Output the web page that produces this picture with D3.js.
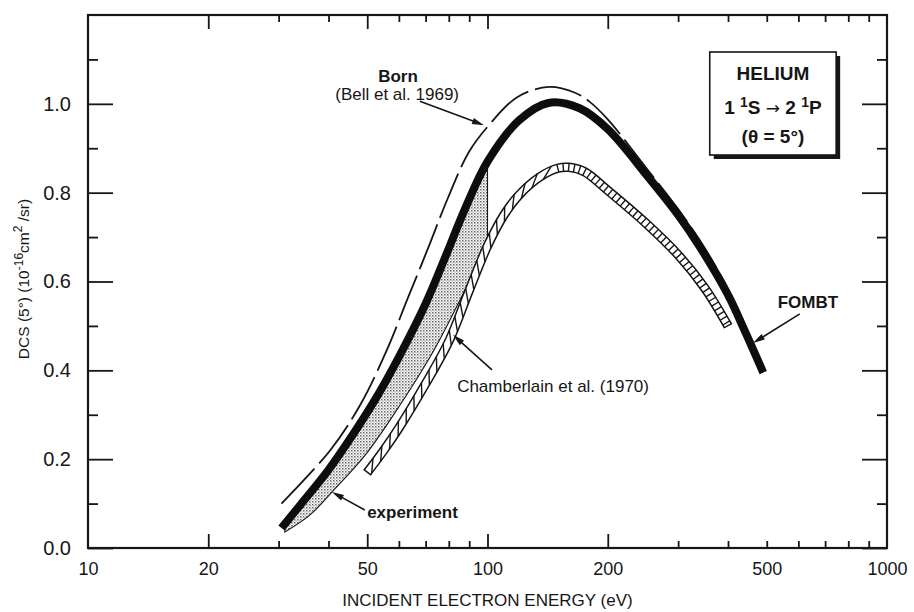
<!DOCTYPE html>
<html><head><meta charset="utf-8">
<script src="https://cdn.jsdelivr.net/npm/d3@7"></script>
<style>body{margin:0;background:#fff}svg{display:block}text{font-family:"Liberation Sans",Arial,Helvetica,sans-serif;fill:#161616}</style>
</head><body>
<svg id="c" width="914" height="612"></svg>
<script>
// ---------- data ----------
const xTickValues = [10, 20, 50, 100, 200, 500, 1000];
const xTickLabels = ["10", "20", "50", "100", "200", "500", "1000"];
const xMajorTicks = [20, 50, 100, 200];
const xMinorTicks = [30, 40, 60, 70, 80, 90, 300, 400, 500, 600, 700, 800, 900];
const yTickValues = [0, 0.2, 0.4, 0.6, 0.8, 1.0];
const yTickLabels = ["0.0", "0.2", "0.4", "0.6", "0.8", "1.0"];
const yMinorTicks = [0.1, 0.3, 0.5, 0.7, 0.9, 1.1];

// FOMBT (thick curve)
const fombtE = [30.5, 34, 40, 46, 52, 60, 70, 78, 88, 100, 120, 142, 170, 200, 250, 300, 340, 400, 440, 490];
const fombtV = [0.045, 0.097, 0.176, 0.255, 0.33, 0.43, 0.55, 0.65, 0.765, 0.87, 0.963, 1.002, 0.99, 0.943, 0.84, 0.75, 0.678, 0.57, 0.49, 0.395];

// Born (Bell et al. 1969), dashed
const bornE = [30.5, 40.4, 48, 56, 63.2, 71, 79.6, 89.9, 101.5, 118.6, 142.5, 165.6, 180, 200, 250, 300, 350, 400, 450];
const bornV = [0.10, 0.22, 0.322, 0.446, 0.563, 0.675, 0.788, 0.892, 0.955, 1.015, 1.038, 1.025, 1.005, 0.965, 0.855, 0.763, 0.675, 0.582, 0.48];

// experiment band (upper / lower boundary)
const expE = [31.1, 35.9, 40.8, 49.4, 60.4, 73.5, 85.3, 100];
const expUpper = [0.05, 0.123, 0.187, 0.299, 0.435, 0.595, 0.735, 0.858];
const expLower = [0.036, 0.074, 0.126, 0.209, 0.322, 0.446, 0.558, 0.687];

// Chamberlain et al. (1970), hatched band centre line
const chamE = [50, 55, 60, 70, 80, 90, 100, 110, 120, 135, 150, 160, 175, 200, 250, 300, 350, 400];
const chamV = [0.17, 0.22, 0.27, 0.37, 0.465, 0.58, 0.68, 0.75, 0.795, 0.835, 0.855, 0.857, 0.847, 0.805, 0.73, 0.66, 0.585, 0.50];

// ---------- layout ----------
const L = 88, R = 887, T = 15, B = 548;
const svg = d3.select("#c");
const x = d3.scaleLog().domain([10, 1000]).range([L, R]);
const y = d3.scaleLinear().domain([0, 1.2]).range([B, T]);
const ink = "#161616";

const defs = svg.append("defs");
const pat = defs.append("pattern").attr("id", "stip").attr("patternUnits", "userSpaceOnUse").attr("width", 3).attr("height", 3);
pat.append("rect").attr("width", 3).attr("height", 3).attr("fill", "#fff");
pat.append("rect").attr("x", 0).attr("y", 0).attr("width", 1.5).attr("height", 1.5).attr("fill", "#666");
pat.append("rect").attr("x", 1.5).attr("y", 1.5).attr("width", 1.2).attr("height", 1.2).attr("fill", "#999");

// ---------- axes ----------
function styleAxis(g) {
  g.select(".domain").remove();
  g.selectAll(".tick line").attr("stroke", ink).attr("stroke-width", 1.8);
  g.selectAll(".tick text").attr("fill", ink);
}
svg.append("g").attr("transform", `translate(0,${B})`)
  .call(d3.axisBottom(x).tickValues(xMajorTicks).tickSize(-14).tickFormat("")).call(styleAxis);
svg.append("g").attr("transform", `translate(0,${B})`)
  .call(d3.axisBottom(x).tickValues(xMinorTicks).tickSize(-7).tickFormat("")).call(styleAxis);
svg.append("g").attr("transform", `translate(0,${T})`)
  .call(d3.axisTop(x).tickValues(xMajorTicks).tickSize(-14).tickFormat("")).call(styleAxis);
svg.append("g").attr("transform", `translate(0,${T})`)
  .call(d3.axisTop(x).tickValues(xMinorTicks).tickSize(-7).tickFormat("")).call(styleAxis);
svg.append("g").attr("transform", `translate(${L},0)`)
  .call(d3.axisLeft(y).tickValues(yTickValues).tickSize(-25).tickFormat("")).call(styleAxis);
svg.append("g").attr("transform", `translate(${L},0)`)
  .call(d3.axisLeft(y).tickValues(yMinorTicks).tickSize(-10).tickFormat("")).call(styleAxis);
svg.append("g").attr("transform", `translate(${R},0)`)
  .call(d3.axisRight(y).tickValues(yTickValues).tickSize(-25).tickFormat("")).call(styleAxis);
svg.append("g").attr("transform", `translate(${R},0)`)
  .call(d3.axisRight(y).tickValues(yMinorTicks).tickSize(-10).tickFormat("")).call(styleAxis);

// tick labels
const xl = svg.append("g").attr("transform", `translate(0,${B})`)
  .call(d3.axisBottom(x).tickValues(xTickValues).tickSize(0).tickPadding(14).tickFormat((d, i) => xTickLabels[i]));
xl.call(styleAxis); xl.selectAll("text").attr("font-size", 18).attr("font-family", "Liberation Sans, Arial, sans-serif");
const yl = svg.append("g").attr("transform", `translate(${L},0)`)
  .call(d3.axisLeft(y).tickValues(yTickValues).tickSize(0).tickPadding(17).tickFormat((d, i) => yTickLabels[i]));
yl.call(styleAxis); yl.selectAll("text").attr("font-size", 20).attr("font-family", "Liberation Sans, Arial, sans-serif");

// frame
svg.append("rect").attr("x", L).attr("y", T).attr("width", R - L).attr("height", B - T)
  .attr("fill", "none").attr("stroke", ink).attr("stroke-width", 2.2);

// axis titles
svg.append("text").attr("x", (L + R) / 2).attr("y", 606).attr("text-anchor", "middle")
  .attr("font-size", 17).text("INCIDENT ELECTRON ENERGY (eV)");
const yt = svg.append("text").attr("transform", `translate(29,${279}) rotate(-90)`)
  .attr("text-anchor", "middle").attr("font-size", 15.5);
yt.append("tspan").text("DCS (5°)  (10");
yt.append("tspan").attr("dy", -6).attr("font-size", 12).text("-16");
yt.append("tspan").attr("dy", 6).text("cm");
yt.append("tspan").attr("dy", -7).attr("font-size", 12).text("2");
yt.append("tspan").attr("dy", 7).text(" /sr)");

// ---------- curves ----------
const plot = svg.append("g");
const line = d3.line().x(d => x(d[0])).y(d => y(d[1])).curve(d3.curveCatmullRom.alpha(0.5));
const zip = (a, b) => a.map((e, i) => [e, b[i]]);

// experiment shaded region
const expData = expE.map((e, i) => ({ e, lo: expLower[i], hi: expUpper[i] }));
const area = d3.area().x(d => x(d.e)).y0(d => y(d.lo)).y1(d => y(d.hi)).curve(d3.curveCatmullRom.alpha(0.5));
plot.append("path").attr("d", area(expData)).attr("fill", "url(#stip)").attr("stroke", ink).attr("stroke-width", 1.1);

// Chamberlain hatched band
const chamD = line(zip(chamE, chamV));
const chOuter = plot.append("path").attr("d", chamD).attr("fill", "none").attr("stroke", ink).attr("stroke-width", 9.5);
plot.append("path").attr("d", chamD).attr("fill", "none").attr("stroke", "#fff").attr("stroke-width", 6.5);
(function hatch() {
  const node = chOuter.node(), len = node.getTotalLength();
  const P = s => node.getPointAtLength(Math.max(0, Math.min(len, s)));
  const N = s => { const a = P(s - 0.6), b = P(s + 0.6); const dx = b.x - a.x, dy = b.y - a.y, m = Math.hypot(dx, dy) || 1; return [-dy / m, dx / m]; };
  const xs = x(150);
  let lo = 0, hi = len;
  for (let k = 0; k < 40; k++) { const mid = (lo + hi) / 2; if (P(mid).x < xs) lo = mid; else hi = mid; }
  const s0 = lo, hw = 4.0;
  const segs = [];
  for (let s = 2; s < s0 - 10; s += 15) {
    const a = P(s), b = P(s + 13), na = N(s), nb = N(s + 13);
    segs.push([a.x + na[0] * hw, a.y + na[1] * hw, b.x - nb[0] * hw, b.y - nb[1] * hw]);
  }
  for (let s = s0; s <= len; s += 5.5) {
    const a = P(s), n = N(s);
    segs.push([a.x + n[0] * hw, a.y + n[1] * hw, a.x - n[0] * hw, a.y - n[1] * hw]);
  }
  [0.3, len - 0.3].forEach(s => { const a = P(s), n = N(s); segs.push([a.x + n[0] * 4.7, a.y + n[1] * 4.7, a.x - n[0] * 4.7, a.y - n[1] * 4.7]); });
  plot.append("g").selectAll("line").data(segs).join("line")
    .attr("x1", d => d[0]).attr("y1", d => d[1]).attr("x2", d => d[2]).attr("y2", d => d[3])
    .attr("stroke", ink).attr("stroke-width", 1.4);
})();

// Born dashed
plot.append("path").attr("d", line(zip(bornE, bornV))).attr("fill", "none")
  .attr("stroke", ink).attr("stroke-width", 1.8).attr("stroke-dasharray", "48,7");

// FOMBT thick
plot.append("path").attr("d", line(zip(fombtE, fombtV))).attr("fill", "none")
  .attr("stroke", "#0d0d0d").attr("stroke-width", 8).attr("stroke-linecap", "butt");

// ---------- annotations (data coordinates) ----------
function arrow(e1, v1, e2, v2) {
  const x1 = x(e1), y1 = y(v1), x2 = x(e2), y2 = y(v2);
  const ang = Math.atan2(y2 - y1, x2 - x1), hl = 12, hw = 3.2;
  svg.append("line").attr("x1", x1).attr("y1", y1).attr("x2", x2 - Math.cos(ang) * 6).attr("y2", y2 - Math.sin(ang) * 6)
    .attr("stroke", ink).attr("stroke-width", 1.6);
  const bx = x2 - Math.cos(ang) * hl, by = y2 - Math.sin(ang) * hl;
  svg.append("path").attr("d", `M${x2},${y2}L${bx - Math.sin(ang) * hw},${by + Math.cos(ang) * hw}L${bx + Math.sin(ang) * hw},${by - Math.cos(ang) * hw}Z`)
    .attr("fill", ink);
}
svg.append("text").attr("x", x(59.7)).attr("y", y(1.049)).attr("text-anchor", "middle").attr("font-size", 17).attr("font-weight", "bold").text("Born");
svg.append("text").attr("x", x(59.4)).attr("y", y(1.009)).attr("text-anchor", "middle").attr("font-size", 17).text("(Bell et al. 1969)");
arrow(67.7, 1.006, 98.0, 0.952);
svg.append("text").attr("x", x(145.9)).attr("y", y(0.351)).attr("text-anchor", "middle").attr("font-size", 17).text("Chamberlain et al. (1970)");
arrow(102.6, 0.401, 81.96, 0.48);
svg.append("text").attr("x", x(64.9)).attr("y", y(0.0675)).attr("text-anchor", "middle").attr("font-size", 17).attr("font-weight", "bold").text("experiment");
arrow(49.3, 0.0856, 40.8, 0.126);
svg.append("text").attr("x", x(634)).attr("y", y(0.540)).attr("text-anchor", "middle").attr("font-size", 17).attr("font-weight", "bold").text("FOMBT");
arrow(605, 0.527, 462, 0.4615);

// HELIUM box
const bx0 = x(360), bx1 = x(746), by0 = y(1.1167), by1 = y(0.8848);
svg.append("rect").attr("x", bx0 + 4).attr("y", by0 + 4).attr("width", bx1 - bx0).attr("height", by1 - by0).attr("fill", ink);
svg.append("rect").attr("x", bx0).attr("y", by0).attr("width", bx1 - bx0).attr("height", by1 - by0).attr("fill", "#fff").attr("stroke", ink).attr("stroke-width", 1.6);
const cx = (bx0 + bx1) / 2;
svg.append("text").attr("x", cx).attr("y", by0 + 28).attr("text-anchor", "middle").attr("font-size", 19).attr("font-weight", "bold").text("HELIUM");
const t2 = svg.append("text").attr("x", cx).attr("y", by0 + 62).attr("text-anchor", "middle").attr("font-size", 19).attr("font-weight", "bold");
t2.append("tspan").text("1 ");
t2.append("tspan").attr("dy", -7).attr("font-size", 14).text("1");
t2.append("tspan").attr("dy", 7).text("S ");
t2.append("tspan").attr("font-family", "DejaVu Sans").attr("font-weight", "normal").attr("font-size", 17).text("\u2192");
t2.append("tspan").text(" 2 ");
t2.append("tspan").attr("dy", -7).attr("font-size", 14).text("1");
t2.append("tspan").attr("dy", 7).text("P");
svg.append("text").attr("x", cx).attr("y", by0 + 91).attr("text-anchor", "middle").attr("font-size", 19).attr("font-weight", "bold").text("(\u03b8 = 5°)");
</script>
</body></html>
